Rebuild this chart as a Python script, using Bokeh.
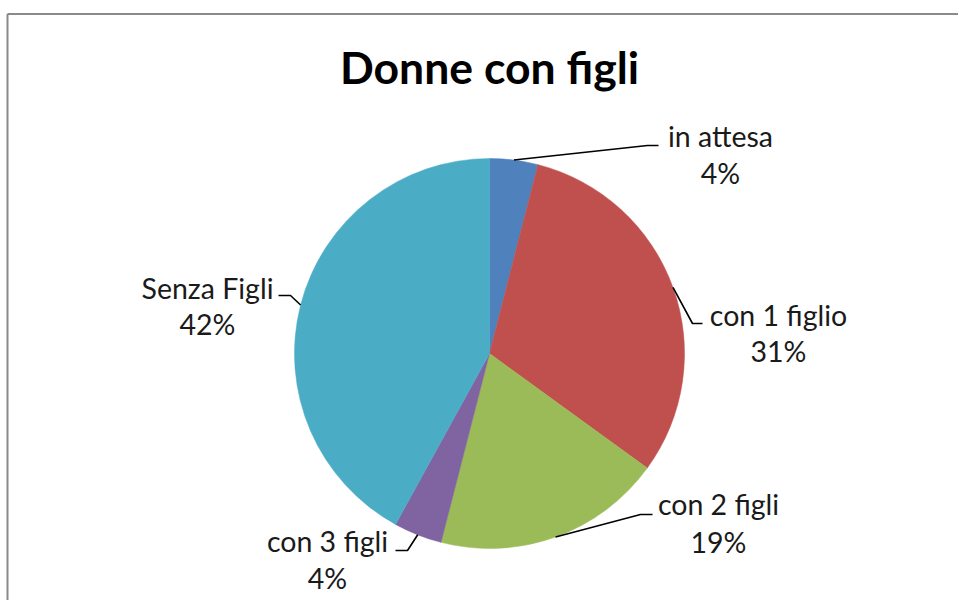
import math
from bokeh.plotting import figure
from bokeh.models import Range1d
from bokeh.core.properties import value
from bokeh.embed import file_html
from bokeh.resources import INLINE

# ---- data ----
categories = ["in attesa", "con 1 figlio", "con 2 figli", "con 3 figli", "Senza Figli"]
percentages = [4, 31, 19, 4, 42]
pct_labels = ["4%", "31%", "19%", "4%", "42%"]
colors = ["#4F81BD", "#C0504D", "#9BBB59", "#8064A2", "#4BACC6"]
title_text = "Donne con figli"

# ---- layout (screen pixels in the 959x602 window) ----
W, H = 958, 600
CX, CY, R = 489, 353, 195
# label layout: (elbow x, elbow y, end x, end y, text center x, line1 y, line2 y)
label_layout = [
    (647, 145, 658, 145, 720, 135, 172),
    (692, 323, 702, 323, 778, 314, 350),
    (640, 514, 652, 514, 718, 503, 541),
    (407, 550, 395, 550, 327, 540, 577),
    (290, 295, 278, 295, 207, 287, 323),
]
FONT = "Lato"
LABEL_SIZE = "28.5px"


def dy(sy):
    return 602 - sy


p = figure(width=W, height=H, output_backend="svg", toolbar_location=None,
           x_range=Range1d(0, W), y_range=Range1d(602 - H, 602),
           min_border=0, outline_line_color=None, background_fill_color="white",
           border_fill_color="white")
p.axis.visible = False
p.grid.visible = False

# frame lines
p.line([7, W], [dy(13.5), dy(13.5)], line_color="#8A8A8A", line_width=2)
p.line([7, 7], [dy(13.5), dy(602)], line_color="#8A8A8A", line_width=2)

total = sum(percentages)
cum = 0.0
starts, ends, mids = [], [], []
for v in percentages:
    a0 = math.pi / 2 - 2 * math.pi * cum / total
    cum += v
    a1 = math.pi / 2 - 2 * math.pi * cum / total
    starts.append(a0)
    ends.append(a1)
    mids.append((a0 + a1) / 2)

p.wedge(x=[CX] * len(percentages), y=[dy(CY)] * len(percentages), radius=R,
        start_angle=starts, end_angle=ends, direction="clock",
        fill_color=colors, line_color=colors, line_width=0.5)

for i, m in enumerate(mids):
    ex, ey, tx, ty, lx, l1, l2 = label_layout[i]
    px = CX + R * math.cos(m)
    py = dy(CY) + R * math.sin(m)
    p.line([px, ex, tx], [py, dy(ey), dy(ty)], line_color="black", line_width=1.6)
    p.text(x=[lx], y=[dy(l1)], text=[categories[i]], text_align="center",
           text_baseline="middle", text_font=value(FONT), text_font_size=LABEL_SIZE,
           text_color="#1a1a1a")
    p.text(x=[lx], y=[dy(l2)], text=[pct_labels[i]], text_align="center",
           text_baseline="middle", text_font=value(FONT), text_font_size=LABEL_SIZE,
           text_color="#1a1a1a")

p.text(x=[489], y=[dy(66)], text=[title_text], text_align="center",
       text_baseline="middle", text_font=value(FONT), text_font_size="44.5px",
       text_font_style="bold", text_color="black")

open("out.html", "w").write(file_html(p, INLINE))
